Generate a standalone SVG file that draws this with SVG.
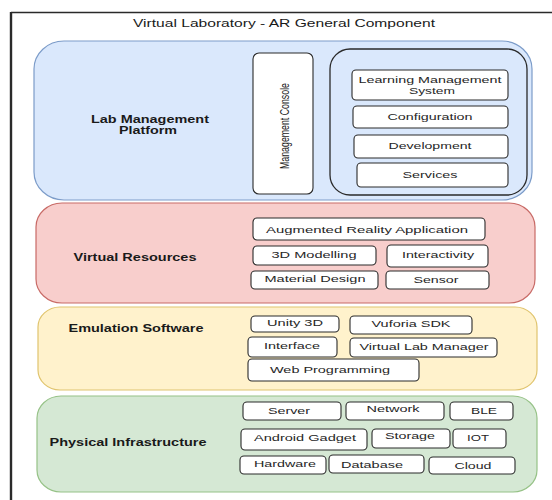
<svg xmlns="http://www.w3.org/2000/svg" width="552" height="500" viewBox="0 0 552 500">
<style>
.t{font-family:"Liberation Sans",Arial,sans-serif;font-size:9.5px;fill:#262626;text-anchor:middle}
.lb{font-family:"Liberation Sans",Arial,sans-serif;font-size:10px;font-weight:bold;fill:#1a1a1a;text-anchor:middle}
.ti{font-family:"Liberation Sans",Arial,sans-serif;font-size:10.5px;fill:#1a1a1a;text-anchor:middle}
.mc{font-family:"Liberation Sans",Arial,sans-serif;font-size:12px;fill:#1a1a1a;text-anchor:middle}
.box{fill:#ffffff;stroke:#2a2a2a;stroke-width:1.1}
.blue{fill:#dae8fc;stroke:#7c9cc9;stroke-width:1.2}
.red{fill:#f8cecc;stroke:#c86a66;stroke-width:1.2}
.yel{fill:#fff2cc;stroke:#e0c46e;stroke-width:1.2}
.grn{fill:#d5e8d4;stroke:#96c287;stroke-width:1.2}
</style>
<rect x="0" y="0" width="552" height="500" fill="#ffffff"/>
<g id="frame">
<line x1="11" y1="12.5" x2="552" y2="12.5" stroke="#2a2a2a" stroke-width="1.4"/>
<line x1="11" y1="12" x2="11" y2="500" stroke="#2a2a2a" stroke-width="2.4"/>
<text class="ti" x="284" y="27" textLength="302" lengthAdjust="spacingAndGlyphs">Virtual Laboratory - AR General Component</text>
</g>
<g id="lab-management-platform">
<rect class="blue" x="34" y="41" width="498" height="159" rx="30" ry="28"/>
<text class="lb" x="150" y="123" textLength="118" lengthAdjust="spacingAndGlyphs">Lab Management</text>
<text class="lb" x="148" y="134" textLength="58" lengthAdjust="spacingAndGlyphs">Platform</text>
</g>
<g id="management-console">
<rect class="box" x="253" y="53" width="60" height="141" rx="6"/>
<text class="mc" transform="translate(288.5,126) rotate(-90)" x="0" y="0" textLength="86" lengthAdjust="spacingAndGlyphs">Management Console</text>
</g>
<g id="lms-container">
<rect x="330" y="49" width="197" height="146" rx="20" fill="#dae8fc" stroke="#2a2a2a" stroke-width="1.3"/>
</g>
<g id="learning-management-system">
<rect class="box" x="352" y="70" width="156" height="30" rx="4"/>
<text class="t" x="430" y="83" textLength="143" lengthAdjust="spacingAndGlyphs">Learning Management</text>
<text class="t" x="432" y="94" textLength="46" lengthAdjust="spacingAndGlyphs">System</text>
</g>
<g id="configuration">
<rect class="box" x="353" y="106" width="155" height="22" rx="4"/>
<text class="t" x="430" y="120" textLength="85" lengthAdjust="spacingAndGlyphs">Configuration</text>
</g>
<g id="development">
<rect class="box" x="354" y="135" width="154" height="23" rx="4"/>
<text class="t" x="430" y="149" textLength="83" lengthAdjust="spacingAndGlyphs">Development</text>
</g>
<g id="services">
<rect class="box" x="357" y="163" width="151" height="24" rx="4"/>
<text class="t" x="430" y="178" textLength="55" lengthAdjust="spacingAndGlyphs">Services</text>
</g>
<g id="virtual-resources">
<rect class="red" x="36" y="203" width="499" height="100" rx="26" ry="24"/>
<text class="lb" x="135" y="261" textLength="123" lengthAdjust="spacingAndGlyphs">Virtual Resources</text>
</g>
<g id="ar-application">
<rect class="box" x="253" y="218" width="232" height="22" rx="4"/>
<text class="t" x="367" y="233" textLength="202" lengthAdjust="spacingAndGlyphs">Augmented Reality  Application</text>
</g>
<g id="3d-modelling">
<rect class="box" x="253" y="246" width="123" height="19" rx="4"/>
<text class="t" x="314" y="258" textLength="85" lengthAdjust="spacingAndGlyphs">3D Modelling</text>
</g>
<g id="interactivity">
<rect class="box" x="387" y="245" width="101" height="22" rx="4"/>
<text class="t" x="438" y="258" textLength="72" lengthAdjust="spacingAndGlyphs">Interactivity</text>
</g>
<g id="material-design">
<rect class="box" x="251" y="271" width="127" height="18" rx="4"/>
<text class="t" x="315" y="282" textLength="101" lengthAdjust="spacingAndGlyphs">Material Design</text>
</g>
<g id="sensor">
<rect class="box" x="386" y="271" width="103" height="18" rx="4"/>
<text class="t" x="436" y="283" textLength="45" lengthAdjust="spacingAndGlyphs">Sensor</text>
</g>
<g id="emulation-software">
<rect class="yel" x="38" y="307" width="499" height="83" rx="22" ry="20"/>
<text class="lb" x="136" y="332" textLength="135" lengthAdjust="spacingAndGlyphs">Emulation Software</text>
</g>
<g id="unity-3d">
<rect class="box" x="251" y="316" width="88" height="16" rx="4"/>
<text class="t" x="295" y="326" textLength="56" lengthAdjust="spacingAndGlyphs">Unity 3D</text>
</g>
<g id="vuforia-sdk">
<rect class="box" x="350" y="316" width="122" height="18" rx="4"/>
<text class="t" x="411" y="327" textLength="79" lengthAdjust="spacingAndGlyphs">Vuforia SDK</text>
</g>
<g id="interface">
<rect class="box" x="248" y="337" width="89" height="20" rx="4"/>
<text class="t" x="292" y="349" textLength="56" lengthAdjust="spacingAndGlyphs">Interface</text>
</g>
<g id="virtual-lab-manager">
<rect class="box" x="350" y="338" width="147" height="19" rx="4"/>
<text class="t" x="424" y="350" textLength="129" lengthAdjust="spacingAndGlyphs">Virtual Lab Manager</text>
</g>
<g id="web-programming">
<rect class="box" x="248" y="359" width="171" height="22" rx="4"/>
<text class="t" x="330" y="373" textLength="120" lengthAdjust="spacingAndGlyphs">Web Programming</text>
</g>
<g id="physical-infrastructure">
<rect class="grn" x="37" y="396" width="500" height="96" rx="24" ry="22"/>
<text class="lb" x="128" y="446" textLength="157" lengthAdjust="spacingAndGlyphs">Physical Infrastructure</text>
</g>
<g id="server">
<rect class="box" x="243" y="402" width="98" height="18" rx="4"/>
<text class="t" x="289" y="414" textLength="42" lengthAdjust="spacingAndGlyphs">Server</text>
</g>
<g id="network">
<rect class="box" x="346" y="402" width="98" height="18" rx="4"/>
<text class="t" x="393" y="412" textLength="53" lengthAdjust="spacingAndGlyphs">Network</text>
</g>
<g id="ble">
<rect class="box" x="450" y="402" width="63" height="18" rx="4"/>
<text class="t" x="484" y="414" textLength="26" lengthAdjust="spacingAndGlyphs">BLE</text>
</g>
<g id="android-gadget">
<rect class="box" x="241" y="429" width="126" height="21" rx="4"/>
<text class="t" x="305" y="441" textLength="102" lengthAdjust="spacingAndGlyphs">Android Gadget</text>
</g>
<g id="storage">
<rect class="box" x="372" y="429" width="78" height="19" rx="4"/>
<text class="t" x="410" y="439" textLength="50" lengthAdjust="spacingAndGlyphs">Storage</text>
</g>
<g id="iot">
<rect class="box" x="453" y="429" width="53" height="19" rx="4"/>
<text class="t" x="478" y="441" textLength="22" lengthAdjust="spacingAndGlyphs">IOT</text>
</g>
<g id="hardware">
<rect class="box" x="240" y="456" width="86" height="18" rx="4"/>
<text class="t" x="285" y="467" textLength="62" lengthAdjust="spacingAndGlyphs">Hardware</text>
</g>
<g id="database">
<rect class="box" x="329" y="455" width="95" height="18" rx="4"/>
<text class="t" x="372" y="468" textLength="62" lengthAdjust="spacingAndGlyphs">Database</text>
</g>
<g id="cloud">
<rect class="box" x="429" y="457" width="86" height="17" rx="4"/>
<text class="t" x="473" y="469" textLength="37" lengthAdjust="spacingAndGlyphs">Cloud</text>
</g>
<g id="connectors"></g>
</svg>
